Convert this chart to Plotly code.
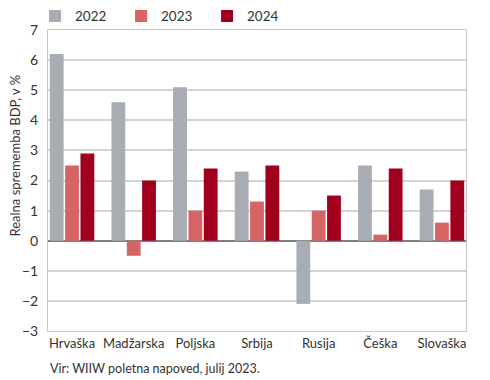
import plotly.graph_objects as go

countries = ["Hrvaška", "Madžarska", "Poljska", "Srbija", "Rusija", "Češka", "Slovaška"]
y2022 = [6.2, 4.6, 5.1, 2.3, -2.1, 2.5, 1.7]
y2023 = [2.5, -0.5, 1.0, 1.3, 1.0, 0.2, 0.6]
y2024 = [2.9, 2.0, 2.4, 2.5, 1.5, 2.4, 2.0]
years = ["2022", "2023", "2024"]
colors = ["#A7ADB3", "#D66464", "#A0001E"]

FONT = "Lato"
fig = go.Figure()
for name, vals, col in zip(years, [y2022, y2023, y2024], colors):
    fig.add_trace(go.Bar(x=list(range(len(countries))), y=vals, name=name,
                         marker=dict(color=col, line=dict(width=0))))

# page body has an 8px margin: figure is sized to fit the 490x380 window
fig.update_layout(
    width=482, height=372,
    margin=dict(l=40, r=24, t=22, b=49, autoexpand=False),
    paper_bgcolor="white", plot_bgcolor="white",
    barmode="group", bargap=0.254, bargroupgap=0.1,
    font=dict(family=FONT, size=13, color="#333333"),
    showlegend=True,
    legend=dict(orientation="h", xref="paper", yref="paper",
                x=-0.031, y=1.097, xanchor="left", yanchor="top",
                font=dict(size=13.5, color="#333333"), tracegroupgap=0,
                entrywidth=41, entrywidthmode="pixels",
                itemwidth=30, bgcolor="rgba(0,0,0,0)", borderwidth=0),
    xaxis=dict(tickmode="array", tickvals=list(range(len(countries))), ticktext=countries,
               range=[-0.39, 6.39], showgrid=False, showline=True, linecolor="#C8C8C8",
               linewidth=1, mirror=True, ticks="", tickfont=dict(size=13)),
    yaxis=dict(range=[-3, 7], dtick=1, showgrid=True, gridcolor="#D3D3D3", gridwidth=1.5,
               showline=True, linecolor="#C8C8C8", linewidth=1, mirror=True,
               zeroline=True, zerolinecolor="#7F7F7F", zerolinewidth=1.5,
               ticks="", tickfont=dict(size=14), ticklabelstandoff=6),
    annotations=[
        dict(text="Realna sprememba BDP, v %", xref="paper", yref="paper",
             x=-0.079, y=0.583, xanchor="center", yanchor="middle", textangle=-90,
             showarrow=False, font=dict(size=13, color="#333333")),
        dict(text="Vir: WIIW poletna napoved, julij 2023.", xref="paper", yref="paper",
             x=0.0, y=-0.126, xanchor="left", yanchor="middle", showarrow=False,
             font=dict(size=12.5, color="#333333")),
    ],
)
fig.write_html("out.html")
